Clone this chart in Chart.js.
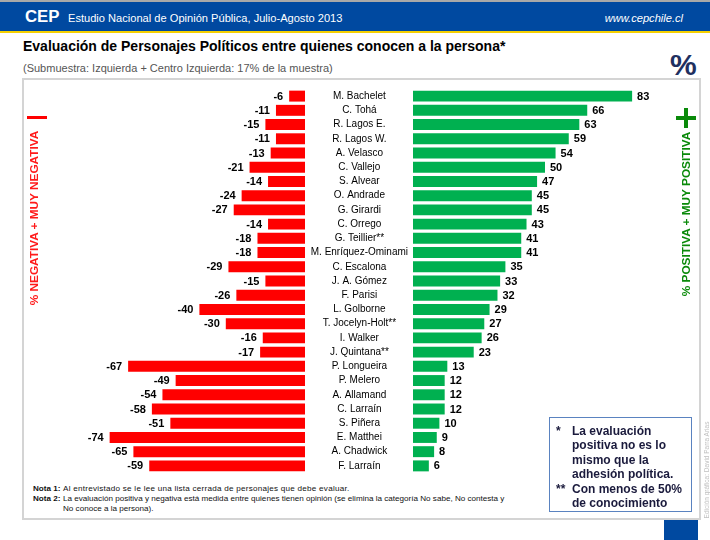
<!DOCTYPE html>
<html>
<head>
<meta charset="utf-8">
<script src="https://cdn.jsdelivr.net/npm/chart.js@4"></script>
<style>
  html, body { margin: 0; padding: 0; }
  body { width: 710px; height: 540px; position: relative; overflow: hidden; background: #fff; font-family: "Liberation Sans", Arial, sans-serif; }
  .abs { position: absolute; }
  #topline { left: 0; top: 0; width: 710px; height: 2px; background: #a8a8a8; }
  #band { left: 0; top: 2px; width: 710px; height: 29px; background: #0049a0; }
  #yellow { left: 0; top: 31px; width: 710px; height: 2px; background: #f5d000; }
  #cep { left: 25px; top: 7px; color: #fff; font-weight: bold; font-size: 16.8px; line-height: 20px; }
  #study { left: 68px; top: 11px; color: #fff; font-size: 11.1px; line-height: 14px; }
  #web { right: 27px; top: 11px; color: #fff; font-size: 11.1px; line-height: 14px; font-style: italic; }
  #title { left: 23px; top: 38px; font-weight: bold; font-size: 14px; color: #000; white-space: nowrap; }
  #subtitle { left: 23px; top: 62px; font-size: 11px; color: #555; white-space: nowrap; }
  #pct { left: 670px; top: 48px; font-weight: bold; font-size: 30px; color: #1f3060; }
  #frame { left: 22px; top: 78px; width: 675px; height: 438px; border: 2px solid #d4d4d4; box-sizing: content-box; }
  #leftChartWrap { left: 23px; top: 89px; width: 282px; height: 384px; }
  #rightChartWrap { left: 305px; top: 89px; width: 385px; height: 384px; }
  #negLabel { left: 34px; top: 218px; transform: translate(-50%, -50%) rotate(-90deg); color: #ff1a1a; font-weight: bold; font-size: 11.8px; white-space: nowrap; }
  #negDash { left: 27px; top: 116px; width: 20px; height: 3px; background: #ff0000; }
  #posLabel { left: 686px; top: 214px; transform: translate(-50%, -50%) rotate(-90deg); color: #0a8a0a; font-weight: bold; font-size: 11.8px; white-space: nowrap; }
  #plusH { left: 676px; top: 115.5px; width: 20px; height: 4px; background: #0a8a0a; }
  #plusV { left: 684px; top: 107.5px; width: 4px; height: 20px; background: #0a8a0a; }
  #notes { left: 33px; top: 484px; font-size: 8.1px; line-height: 10px; color: #111; white-space: nowrap; }
  #notes b { display: inline-block; width: 30px; letter-spacing: 0; }
  #notes .l1 { letter-spacing: 0.25px; }
  #box { left: 549px; top: 417px; width: 141px; height: 93px; border: 1.5px solid #5a83c0; background: #fff; }
  #boxText { left: 556px; top: 424px; font-weight: bold; font-size: 12px; line-height: 14.4px; color: #1a1a3c; white-space: nowrap; }
  #boxText span.m { display: inline-block; width: 16px; }
  #blueSq { left: 664px; top: 520px; width: 34px; height: 20px; background: #0049a0; }
  #credit { left: 706px; top: 470px; transform: translate(-50%, -50%) rotate(-90deg); color: #c0c0c0; font-size: 6.5px; white-space: nowrap; }
</style>
</head>
<body>
<div class="abs" id="topline"></div>
<div class="abs" id="band"></div>
<div class="abs" id="yellow"></div>
<div class="abs" id="cep">CEP</div>
<div class="abs" id="study">Estudio Nacional de Opinión Pública, Julio-Agosto 2013</div>
<div class="abs" id="web">www.cepchile.cl</div>
<div class="abs" id="title">Evaluación de Personajes Políticos entre quienes conocen a la persona*</div>
<div class="abs" id="subtitle">(Submuestra: Izquierda + Centro Izquierda: 17% de la muestra)</div>
<div class="abs" id="pct">%</div>
<div class="abs" id="frame"></div>
<div class="abs" id="leftChartWrap"><canvas id="leftChart"></canvas></div>
<div class="abs" id="rightChartWrap"><canvas id="rightChart"></canvas></div>
<div class="abs" id="negDash"></div>
<div class="abs" id="negLabel">% NEGATIVA + MUY NEGATIVA</div>
<div class="abs" id="plusH"></div>
<div class="abs" id="plusV"></div>
<div class="abs" id="posLabel">% POSITIVA + MUY POSITIVA</div>
<div class="abs" id="notes">
  <div class="l1"><b>Nota 1:</b>Al entrevistado se le lee una lista cerrada de personajes que debe evaluar.</div>
  <div><b>Nota 2:</b>La evaluación positiva y negativa está medida entre quienes tienen opinión (se elimina la categoría No sabe, No contesta y</div>
  <div><b></b>No conoce a la persona).</div>
</div>
<div class="abs" id="box"></div>
<div class="abs" id="boxText">
  <div><span class="m">*</span>La evaluación</div>
  <div><span class="m"></span>positiva no es lo</div>
  <div><span class="m"></span>mismo que la</div>
  <div><span class="m"></span>adhesión política.</div>
  <div><span class="m">**</span>Con menos de 50%</div>
  <div><span class="m"></span>de conocimiento</div>
</div>
<div class="abs" id="blueSq"></div>
<div class="abs" id="credit">Edición gráfica: David Parra Arias</div>

<script>
const names = ["M. Bachelet","C. Tohá","R. Lagos E.","R. Lagos W.","A. Velasco","C. Vallejo","S. Alvear","O. Andrade","G. Girardi","C. Orrego","G. Teillier**","M. Enríquez-Ominami","C. Escalona","J. A. Gómez","F. Parisi","L. Golborne","T. Jocelyn-Holt**","I. Walker","J. Quintana**","P. Longueira","P. Melero","A. Allamand","C. Larraín","S. Piñera","E. Matthei","A. Chadwick","F. Larraín"];
const negative = [-6,-11,-15,-11,-13,-21,-14,-24,-27,-14,-18,-18,-29,-15,-26,-40,-30,-16,-17,-67,-49,-54,-58,-51,-74,-65,-59];
const positive = [83,66,63,59,54,50,47,45,45,43,41,41,35,33,32,29,27,26,23,13,12,12,12,10,9,8,6];

const FONT = '"Liberation Sans", Arial, sans-serif';

const valueLabels = {
  id: 'valueLabels',
  afterDatasetsDraw(chart) {
    const ctx = chart.ctx;
    ctx.save();
    ctx.font = 'bold 11px ' + FONT;
    ctx.fillStyle = '#000';
    ctx.textBaseline = 'middle';
    chart.data.datasets.forEach((ds, di) => {
      chart.getDatasetMeta(di).data.forEach((bar, i) => {
        const v = ds.data[i];
        if (v < 0) { ctx.textAlign = 'right'; ctx.fillText(String(v), bar.x - 6, bar.y + 0.5); }
        else { ctx.textAlign = 'left'; ctx.fillText(String(v), bar.x + 5, bar.y + 0.5); }
      });
    });
    ctx.restore();
  }
};

Chart.defaults.font.family = FONT;
Chart.defaults.animation = false;

new Chart(document.getElementById('leftChart'), {
  type: 'bar',
  data: { labels: names, datasets: [{ data: negative, backgroundColor: '#ff0000', borderWidth: 0, categoryPercentage: 1, barPercentage: 0.77 }] },
  options: {
    indexAxis: 'y', responsive: true, maintainAspectRatio: false,
    layout: { padding: { left: 18, right: 0, top: 0, bottom: 0 } },
    plugins: { legend: { display: false }, tooltip: { enabled: false } },
    scales: {
      x: { display: false, min: -100, max: 0 },
      y: { display: false }
    }
  },
  plugins: [valueLabels]
});

new Chart(document.getElementById('rightChart'), {
  type: 'bar',
  data: { labels: names, datasets: [{ data: positive, backgroundColor: '#00b050', borderWidth: 0, categoryPercentage: 1, barPercentage: 0.77 }] },
  options: {
    indexAxis: 'y', responsive: true, maintainAspectRatio: false,
    layout: { padding: { left: 0, right: 13, top: 0, bottom: 0 } },
    plugins: { legend: { display: false }, tooltip: { enabled: false } },
    scales: {
      x: { display: false, min: 0, max: 100 },
      y: {
        grid: { display: false, drawTicks: false },
        border: { display: false },
        ticks: { crossAlign: 'center', padding: 5, color: '#000', font: { size: 10 }, autoSkip: false },
        afterFit(scale) { scale.width = 108; scale.paddingTop = 0; scale.paddingBottom = 0; }
      }
    }
  },
  plugins: [valueLabels]
});
</script>
</body>
</html>
